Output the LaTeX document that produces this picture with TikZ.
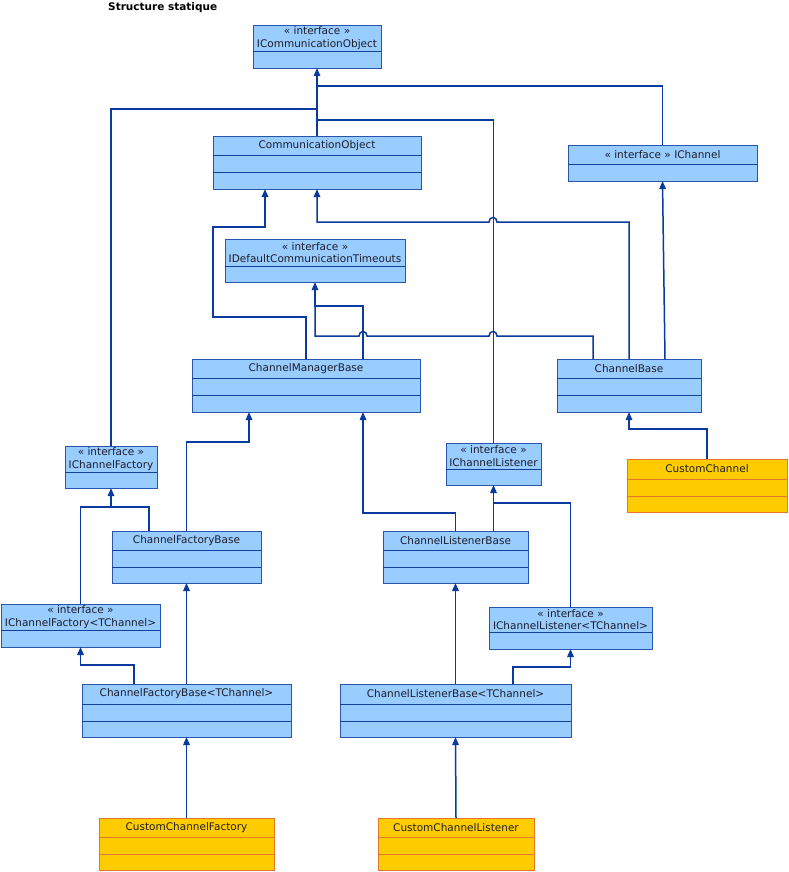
\documentclass[tikz,border=0pt]{standalone}
\usepackage{fontspec}
\setmainfont{DejaVu Sans}
\usetikzlibrary{arrows.meta}
\definecolor{bfill}{HTML}{99CCFF}
\definecolor{bdraw}{HTML}{2855B0}
\definecolor{bdiv}{HTML}{143F9E}
\definecolor{yfill}{HTML}{FFCC00}
\definecolor{ydraw}{HTML}{E5762A}
\definecolor{lcol}{HTML}{0A3A9E}
\definecolor{tcol}{HTML}{1E1E28}
\tikzset{
  bluebox/.style={draw=bdraw, fill=bfill, line width=0.9pt, inner sep=0pt, outer sep=0pt},
  bluebox div/.style={draw=bdiv, line width=0.9pt},
  yelbox/.style={draw=ydraw, fill=yfill, line width=0.9pt, inner sep=0pt, outer sep=0pt},
  yelbox div/.style={draw=ydraw, line width=0.9pt},
  lbl/.style={text=tcol, font=\fontsize{10.5}{12.5}\selectfont, align=center, inner sep=0pt},
  ln/.style={draw=lcol, line width=1.5pt},
  arr/.style={ln, -{Triangle[length=8pt,width=6.5pt]}},
}
\newcommand\uclass[9]{%
  \node[#1, minimum width=#5pt, minimum height=#6pt, anchor=north west] (#2) at (#3,#4) {};
  \draw[#1 div] ([yshift=-#7pt]#2.north west) -- ([yshift=-#7pt]#2.north east);
  \ifnum#8>0 \draw[#1 div] ([yshift=-#8pt]#2.north west) -- ([yshift=-#8pt]#2.north east);\fi
  \node[lbl] (#2-t) at ([yshift={-#7pt/2}]#2.north) {#9};
}
\begin{document}
\begin{tikzpicture}[x=1pt,y=-1pt]
\useasboundingbox[fill=white] (0,0) rectangle (788,872);
\node[anchor=west, inner sep=0pt, text=black, font=\bfseries\fontsize{10.5}{12}\selectfont] (title) at (108,8) {Structure statique};

% classes
\uclass{bluebox}{ico}{253}{25}{128}{43}{26}{0}{« interface »\\ICommunicationObject}
\uclass{bluebox}{co}{213}{136}{208}{53}{19}{36}{CommunicationObject}
\uclass{bluebox}{ichan}{568}{145}{189}{36}{19}{0}{« interface » IChannel}
\uclass{bluebox}{idct}{225}{239}{180}{43}{27}{0}{« interface »\\IDefaultCommunicationTimeouts}
\uclass{bluebox}{cmb}{192}{359}{228}{53}{19}{36}{ChannelManagerBase}
\uclass{bluebox}{cb}{557}{359}{144}{53}{19}{36}{ChannelBase}
\uclass{yelbox}{cc}{627}{459}{160}{53}{20}{37}{CustomChannel}
\uclass{bluebox}{icf}{65}{446}{92}{42}{26}{0}{« interface »\\IChannelFactory}
\uclass{bluebox}{cfb}{112}{531}{149}{52}{19}{36}{ChannelFactoryBase}
\uclass{bluebox}{icft}{1}{604}{159}{43}{26}{0}{« interface »\\IChannelFactory<TChannel>}
\uclass{bluebox}{cfbt}{82}{684}{209}{53}{20}{37}{ChannelFactoryBase<TChannel>}
\uclass{yelbox}{ccf}{99}{818}{175}{52}{19}{36}{CustomChannelFactory}
\uclass{bluebox}{icl}{446}{443}{95}{42}{26}{0}{« interface »\\IChannelListener}
\uclass{bluebox}{clb}{383}{531}{145}{52}{19}{36}{ChannelListenerBase}
\uclass{bluebox}{iclt}{489}{607}{163}{42}{25}{0}{« interface »\\IChannelListener<TChannel>}
\uclass{bluebox}{clbt}{340}{684}{231}{53}{20}{37}{ChannelListenerBase<TChannel>}
\uclass{yelbox}{ccl}{378}{818}{156}{52}{19}{36}{CustomChannelListener}

% connectors to ICommunicationObject
\draw[arr] (co.north) -- (ico.south);
\draw[ln] (ichan.north) |- (317,86);
\draw[ln] (icf.north) |- (317,109);
\draw[ln] (icl.north) |- (317,120);

% to CommunicationObject
\draw[arr] (cmb.north) -- (306,317) -- (213,317) -- (213,227) -- (265,227) -- ([xshift=-52pt]co.south);
\draw[arr] (cb.north) -- (629,222) -- (497,222) .. controls (497,216) and (489,216) .. (489,222) -- (317,222) -- (co.south);

% to IDefaultCommunicationTimeouts
\draw[arr] ([xshift=57pt]cmb.north) -- (363,306) -- (315,306) -- (idct.south);
\draw[ln] ([xshift=-36pt]cb.north) -- (593,336) -- (497,336) .. controls (497,330) and (489,330) .. (489,336)
  -- (367,336) .. controls (367,330) and (359,330) .. (359,336) -- (315,336) -- (315,306);

% to IChannel
\draw[arr] ([xshift=36pt]cb.north) -- (ichan.south);

% to ChannelManagerBase
\draw[arr] (cfb.north) -- (186.5,442) -- (249,442) -- ([xshift=-57pt]cmb.south);
\draw[arr] (clb.north) -- (455.5,513) -- (363,513) -- ([xshift=57pt]cmb.south);

% to IChannelFactory
\draw[arr] ([xshift=-37.5pt]cfb.north) -- (149,507) -- (111,507) -- (icf.south);
\draw[ln] (icft.north) |- (111,507);

% factory chain
\draw[arr] ([xshift=-52.5pt]cfbt.north) -- (134,665) -- (80.5,665) -- (icft.south);
\draw[arr] (cfbt.north) -- (cfb.south);
\draw[arr] (ccf.north) -- (cfbt.south);

% to IChannelListener
\draw[arr] ([xshift=38pt]clb.north) -- (icl.south);
\draw[ln] (iclt.north) |- (493.5,503);

% listener chain
\draw[arr] (clbt.north) -- (clb.south);
\draw[arr] ([xshift=57.5pt]clbt.north) -- (513,667) -- (570.5,667) -- (iclt.south);
\draw[arr] (ccl.north) -- (clbt.south);

% to ChannelBase
\draw[arr] (cc.north) -- (707,429) -- (629,429) -- (cb.south);
\end{tikzpicture}
\end{document}
